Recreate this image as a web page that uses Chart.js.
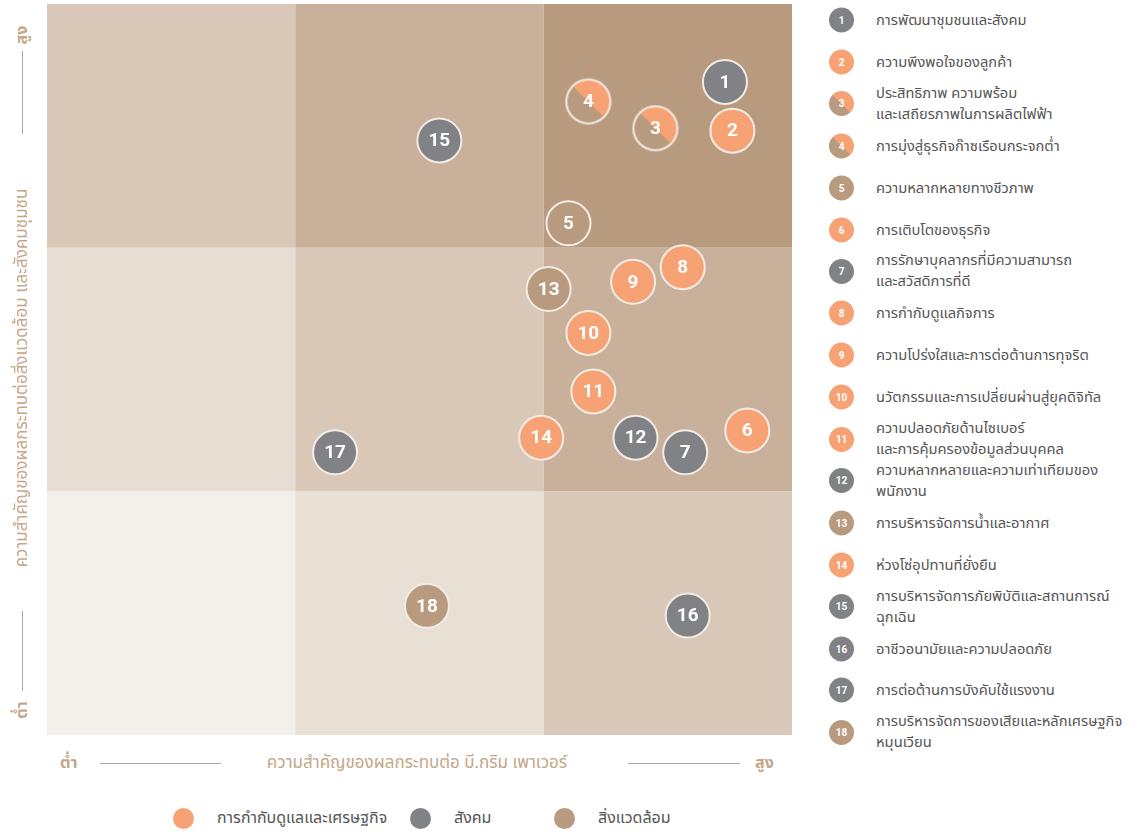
<!DOCTYPE html>
<html>
<head>
<meta charset="utf-8">
<script src="https://cdn.jsdelivr.net/npm/chart.js@4.4.1/dist/chart.umd.min.js"></script>
<style>
  body { margin: 0; background: #fff; font-family: "Noto Sans Thai", "Noto Sans", sans-serif; }
  #wrap { position: relative; width: 1138px; height: 832px; overflow: hidden; }
  #chartBox { position: absolute; left: 0; top: 0; width: 800px; height: 740px; }
  .axisTxt { position: absolute; color: #c4a689; font-size: 17px; white-space: nowrap; }
  .axisEnd { font-weight: bold; font-size: 16px; }
  .hline { position: absolute; height: 1px; background: #a7a7a7; }
  .vline { position: absolute; width: 1px; background: #a7a7a7; }
  #yTitle { position: absolute; left: 22px; top: 378px; transform: translate(-50%, -50%) rotate(-90deg); }
  #list { position: absolute; left: 829px; top: 0; width: 309px; }
  .item { position: absolute; left: 0; width: 309px; display: flex; align-items: center; transform: translateY(-50%); }
  .dot { width: 25px; height: 25px; border-radius: 50%; color: #fff; font: bold 10px Roboto, sans-serif;
         display: flex; align-items: center; justify-content: center; flex: none; }
  .name { margin-left: 22px; font-size: 14.7px; line-height: 21px; color: #555; }
  .leg { position: absolute; top: 818px; display: flex; align-items: center; transform: translateY(-50%); }
  .leg .dot { width: 21px; height: 21px; }
  .leg span { margin-left: 23px; font-size: 16px; color: #555; }
</style>
</head>
<body>
<div id="wrap">
  <div id="chartBox"><canvas id="matrix"></canvas></div>
  <div id="list"></div>
</div>
<script>
const topicIds = [1, 2, 3, 4, 5, 6, 7, 8, 9, 10, 11, 12, 13, 14, 15, 16, 17, 18];
const topicNames = [
  'การพัฒนาชุมชนและสังคม',
  'ความพึงพอใจของลูกค้า',
  'ประสิทธิภาพ ความพร้อม<br>และเสถียรภาพในการผลิตไฟฟ้า',
  'การมุ่งสู่ธุรกิจก๊าซเรือนกระจกต่ำ',
  'ความหลากหลายทางชีวภาพ',
  'การเติบโตของธุรกิจ',
  'การรักษาบุคลากรที่มีความสามารถ<br>และสวัสดิการที่ดี',
  'การกำกับดูแลกิจการ',
  'ความโปร่งใสและการต่อต้านการทุจริต',
  'นวัตกรรมและการเปลี่ยนผ่านสู่ยุคดิจิทัล',
  'ความปลอดภัยด้านไซเบอร์<br>และการคุ้มครองข้อมูลส่วนบุคคล',
  'ความหลากหลายและความเท่าเทียมของ<br>พนักงาน',
  'การบริหารจัดการน้ำและอากาศ',
  'ห่วงโซ่อุปทานที่ยั่งยืน',
  'การบริหารจัดการภัยพิบัติและสถานการณ์<br>ฉุกเฉิน',
  'อาชีวอนามัยและความปลอดภัย',
  'การต่อต้านการบังคับใช้แรงงาน',
  'การบริหารจัดการของเสียและหลักเศรษฐกิจ<br>หมุนเวียน'
];
// gov = governance & economy, soc = social, env = environment, mix = governance/environment
const topicGroup = ['soc', 'gov', 'mix', 'mix', 'env', 'gov', 'soc', 'gov', 'gov', 'gov', 'gov', 'soc', 'env', 'gov', 'soc', 'soc', 'soc', 'env'];
// x: importance to the company, y: importance to stakeholders (0-3, one unit per band)
const companyImpact = [2.73, 2.76, 2.45, 2.18, 2.10, 2.82, 2.57, 2.56, 2.36, 2.18, 2.20, 2.37, 2.02, 1.99, 1.58, 2.58, 1.16, 1.53];
const stakeholderImpact = [2.68, 2.48, 2.49, 2.60, 2.10, 1.25, 1.16, 1.92, 1.86, 1.65, 1.41, 1.22, 1.83, 1.22, 2.44, 0.49, 1.16, 0.53];
const groupKeys = ['gov', 'soc', 'env'];
const groupLabels = ['การกำกับดูแลและเศรษฐกิจ', 'สังคม', 'สิ่งแวดล้อม'];
const xAxisTitle = 'ความสำคัญของผลกระทบต่อ บี.กริม เพาเวอร์';
const yAxisTitle = 'ความสำคัญของผลกระทบต่อสิ่งแวดล้อม และสังคมชุมชน';
const lowLabel = 'ต่ำ';
const highLabel = 'สูง';

const colors = { gov: '#f7a275', soc: '#808285', env: '#b89b7e' };
const mixCss = 'linear-gradient(45deg, #b89b7e 50%, #f7a275 50%)';
// band colours, rows from bottom to top, columns left to right
const cellColors = [
  ['#f3f0ec', '#e8dfd5', '#d9c8b7'],
  ['#e8ddd3', '#d9c8b7', '#c9b09a'],
  ['#d9c8b7', '#c9b09a', '#b89b7e']
];
const R = 22;

// split marker for topics that belong to two groups
function splitMarker() {
  const s = R * 2 + 4, c = document.createElement('canvas');
  c.width = s; c.height = s;
  const g = c.getContext('2d'), m = s / 2;
  g.save();
  g.beginPath(); g.arc(m, m, R, 0, Math.PI * 2); g.clip();
  g.fillStyle = colors.env; g.fillRect(0, 0, s, s);
  g.fillStyle = colors.gov;
  g.beginPath(); g.moveTo(0, 0); g.lineTo(s, 0); g.lineTo(s, s); g.closePath(); g.fill();
  g.restore();
  g.beginPath(); g.arc(m, m, R, 0, Math.PI * 2);
  g.lineWidth = 2; g.strokeStyle = '#f1ece6'; g.stroke();
  return c;
}

function groupData(key) {
  const pts = [];
  topicIds.forEach((id, i) => {
    if (topicGroup[i] === key) pts.push({ x: companyImpact[i], y: stakeholderImpact[i], id: id });
  });
  return pts;
}

const datasets = groupKeys.map((k, i) => ({
  label: groupLabels[i],
  data: groupData(k),
  backgroundColor: colors[k],
  borderColor: '#f1ece6',
  borderWidth: 2,
  pointRadius: R,
  pointHoverRadius: R
}));
datasets.push({
  label: 'mix',
  data: groupData('mix'),
  pointStyle: splitMarker(),
  pointRadius: R
});

const bandPlugin = {
  id: 'bands',
  beforeDatasetsDraw(chart) {
    const { ctx, scales: { x, y } } = chart;
    ctx.save();
    for (let r = 0; r < 3; r++) {
      for (let c = 0; c < 3; c++) {
        const x0 = x.getPixelForValue(c), x1 = x.getPixelForValue(c + 1);
        const y0 = y.getPixelForValue(r + 1), y1 = y.getPixelForValue(r);
        ctx.fillStyle = cellColors[r][c];
        ctx.fillRect(x0, y0, x1 - x0, y1 - y0);
      }
    }
    ctx.restore();
  }
};

const numberPlugin = {
  id: 'numbers',
  afterDatasetsDraw(chart) {
    const ctx = chart.ctx;
    ctx.save();
    ctx.fillStyle = '#fff';
    ctx.font = 'bold 19px Roboto, sans-serif';
    ctx.textAlign = 'center';
    ctx.textBaseline = 'middle';
    chart.data.datasets.forEach((ds, di) => {
      chart.getDatasetMeta(di).data.forEach((el, j) => {
        ctx.fillText(String(ds.data[j].id), el.x, el.y + 1);
      });
    });
    ctx.restore();
  }
};

new Chart(document.getElementById('matrix'), {
  type: 'scatter',
  data: { datasets: datasets },
  options: {
    responsive: true,
    maintainAspectRatio: false,
    animation: false,
    events: [],
    clip: false,
    layout: { autoPadding: false, padding: { left: 47, top: 4, right: 8, bottom: 5 } },
    scales: {
      x: { min: 0, max: 3, display: false },
      y: { min: 0, max: 3, display: false }
    },
    plugins: { legend: { display: false }, tooltip: { enabled: false } }
  },
  plugins: [bandPlugin, numberPlugin]
});

// axis captions
const wrap = document.getElementById('wrap');
function addEl(cls, css, html) {
  const d = document.createElement('div');
  d.className = cls;
  d.style.cssText = css;
  if (html) d.innerHTML = html;
  wrap.appendChild(d);
  return d;
}
addEl('axisTxt axisEnd', 'left:60px;top:751px;', lowLabel);
addEl('hline', 'left:100px;top:763px;width:121px;');
addEl('axisTxt', 'left:417px;top:750px;transform:translateX(-50%);', xAxisTitle);
addEl('hline', 'left:628px;top:763px;width:112px;');
addEl('axisTxt axisEnd', 'left:755px;top:751px;', highLabel);

addEl('axisTxt axisEnd', 'left:22px;top:35px;transform:translate(-50%,-50%) rotate(-90deg);', highLabel);
addEl('vline', 'left:22px;top:51px;height:83px;');
const yt = addEl('axisTxt', '', yAxisTitle); yt.id = 'yTitle';
addEl('vline', 'left:22px;top:611px;height:80px;');
addEl('axisTxt axisEnd', 'left:22px;top:710px;transform:translate(-50%,-50%) rotate(-90deg);', lowLabel);

// numbered topic list
const list = document.getElementById('list');
topicIds.forEach((id, i) => {
  const row = document.createElement('div');
  row.className = 'item';
  row.style.top = (20 + i * 41.9) + 'px';
  const g = topicGroup[i];
  const bg = g === 'mix' ? mixCss : colors[g];
  row.innerHTML = '<div class="dot" style="background:' + bg + '">' + id + '</div><div class="name">' + topicNames[i] + '</div>';
  list.appendChild(row);
});

// group legend
const legLeft = [173, 410, 554];
groupKeys.forEach((k, i) => {
  addEl('leg', 'left:' + legLeft[i] + 'px;', '<div class="dot" style="background:' + colors[k] + '"></div><span>' + groupLabels[i] + '</span>');
});
</script>
</body>
</html>
